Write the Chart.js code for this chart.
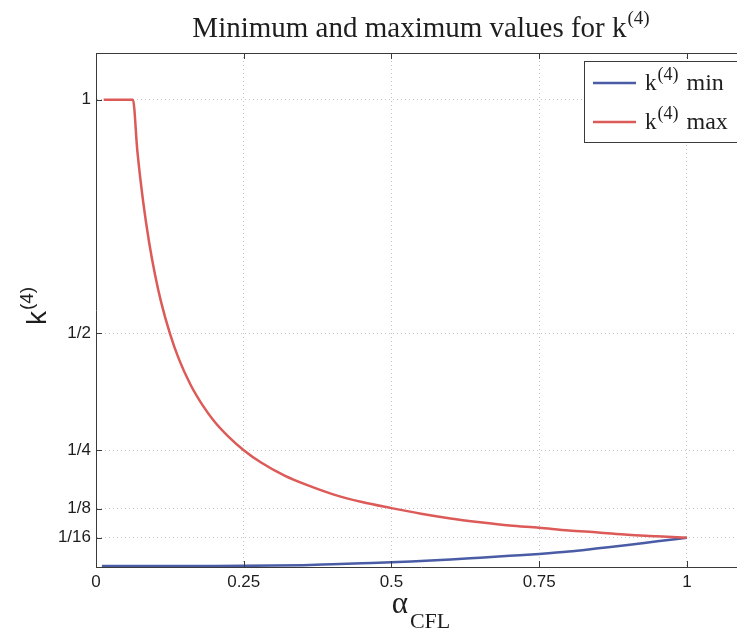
<!DOCTYPE html>
<html>
<head>
<meta charset="utf-8">
<script src="https://cdn.jsdelivr.net/npm/chart.js@4/dist/chart.umd.min.js"></script>
<style>
  html, body { margin: 0; padding: 0; background: #fff; overflow: hidden; }
  #wrap { position: absolute; left: 0; top: 0; width: 760px; height: 635px; }
</style>
</head>
<body>
<div id="wrap"><canvas id="chart" width="760" height="635"></canvas></div>
<script>
// k(4)max: upper bound of the limiter coefficient against the CFL number
const maxAlpha = [0.013, 0.0625, 0.07, 0.08, 0.09, 0.1, 0.11, 0.125, 0.14, 0.16, 0.18, 0.2, 0.225, 0.25,
                  0.28, 0.32, 0.36, 0.4, 0.45, 0.5, 0.55, 0.6, 0.65, 0.7, 0.75, 0.8, 0.85, 0.9, 0.95, 1];
const maxK     = [1, 1, 0.89, 0.78, 0.694, 0.625, 0.568, 0.5, 0.446, 0.39, 0.347, 0.312, 0.278, 0.25,
                  0.223, 0.195, 0.174, 0.156, 0.139, 0.126, 0.114, 0.104, 0.096, 0.089, 0.084, 0.078, 0.074, 0.069, 0.066, 0.0625];

// k(4)min: lower bound
const minAlpha = [0.01, 0.1, 0.2, 0.3, 0.35, 0.4, 0.45, 0.5, 0.55, 0.6, 0.65, 0.7, 0.75, 0.8, 0.85, 0.9, 0.95, 1];
const minK     = [0.002, 0.002, 0.002, 0.003, 0.004, 0.006, 0.008, 0.010, 0.013, 0.016, 0.020, 0.024, 0.028, 0.033, 0.040, 0.047, 0.055, 0.0625];

const xTicks = [0, 0.25, 0.5, 0.75, 1];
const xTickLabels = ['0', '0.25', '0.5', '0.75', '1'];
const yTicks = [0.0625, 0.125, 0.25, 0.5, 1];
const yTickLabels = ['1/16', '1/8', '1/4', '1/2', '1'];

const titleText = 'Minimum and maximum values for k';
const supText = '(4)';
const seriesNames = ['min', 'max'];
const xTitleMain = '\u03B1';
const xTitleSub = 'CFL';
const yTitleMain = 'k';

const BLUE = '#4a5ca6';
const RED = '#dc5a57';
const SERIF = '"Liberation Serif", "Times New Roman", serif';
const SANS = '"Liberation Sans", Arial, sans-serif';

function toPoints(xs, ys) { return xs.map((x, i) => ({ x: x, y: ys[i] })); }

// draws a run of text pieces with their own font and vertical shift
function drawRuns(ctx, runs, x, y, align) {
  let total = 0;
  runs.forEach(r => { ctx.font = r.font; r.w = ctx.measureText(r.text).width; total += r.w + (r.gap || 0); });
  let cx = align === 'center' ? x - total / 2 : x;
  ctx.textAlign = 'left';
  ctx.textBaseline = 'alphabetic';
  runs.forEach(r => {
    cx += (r.gap || 0);
    ctx.font = r.font;
    ctx.fillText(r.text, cx, y + (r.dy || 0));
    cx += r.w;
  });
}

const decorations = {
  id: 'decorations',
  afterDraw(chart) {
    const { ctx, chartArea: a, scales } = chart;
    const xs = scales.x, ys = scales.y;
    ctx.save();
    // frame top and right lines
    ctx.strokeStyle = '#3a3a3a';
    ctx.lineWidth = 1;
    ctx.beginPath();
    ctx.moveTo(a.left, a.top + 0.5);
    ctx.lineTo(a.right, a.top + 0.5);
    ctx.moveTo(a.right - 0.5, a.top);
    ctx.lineTo(a.right - 0.5, a.bottom);
    ctx.stroke();
    // inward tick marks
    ctx.beginPath();
    xTicks.forEach(v => {
      const px = Math.round(xs.getPixelForValue(v)) + 0.5;
      ctx.moveTo(px, a.bottom); ctx.lineTo(px, a.bottom - 6);
      ctx.moveTo(px, a.top); ctx.lineTo(px, a.top + 6);
    });
    yTicks.forEach(v => {
      const py = Math.round(ys.getPixelForValue(v)) + 0.5;
      ctx.moveTo(a.left, py); ctx.lineTo(a.left + 6, py);
    });
    ctx.stroke();

    ctx.fillStyle = '#1e1e1e';
    // title
    drawRuns(ctx, [
      { text: titleText, font: '29px ' + SERIF },
      { text: supText, font: '19px ' + SERIF, dy: -13, gap: 1 }
    ], (a.left + a.right) / 2, 37, 'center');

    // x axis title
    drawRuns(ctx, [
      { text: xTitleMain, font: '31px ' + SERIF },
      { text: xTitleSub, font: '22px ' + SERIF, dy: 15, gap: 2 }
    ], (a.left + a.right) / 2, 613, 'center');

    // y axis title, rotated
    ctx.save();
    ctx.translate(46, (a.top + a.bottom) / 2 - 4);
    ctx.rotate(-Math.PI / 2);
    drawRuns(ctx, [
      { text: yTitleMain, font: '28px ' + SANS },
      { text: supText, font: '19px ' + SANS, dy: -13, gap: 1 }
    ], 0, 0, 'center');
    ctx.restore();

    // legend
    const lx = 584, ly = 61, lw = 160, lh = 81;
    ctx.fillStyle = '#ffffff';
    ctx.fillRect(lx, ly, lw, lh);
    ctx.strokeStyle = '#3a3a3a';
    ctx.lineWidth = 1;
    ctx.strokeRect(lx + 0.5, ly + 0.5, lw, lh);
    const rows = [{ c: BLUE, y: 83 }, { c: RED, y: 122 }];
    rows.forEach((r, i) => {
      ctx.strokeStyle = r.c;
      ctx.lineWidth = 2.5;
      ctx.beginPath();
      ctx.moveTo(593, r.y); ctx.lineTo(636, r.y);
      ctx.stroke();
      ctx.fillStyle = '#1e1e1e';
      drawRuns(ctx, [
        { text: yTitleMain, font: '23px ' + SERIF },
        { text: supText, font: '18px ' + SERIF, dy: -10, gap: 1 },
        { text: seriesNames[i], font: '24px ' + SERIF, gap: 8 }
      ], 645, r.y + 7, 'left');
    });
    ctx.restore();
  }
};

new Chart(document.getElementById('chart'), {
  type: 'line',
  data: {
    datasets: [
      { label: 'k(4) min', data: toPoints(minAlpha, minK), borderColor: BLUE, borderWidth: 2.5,
        pointRadius: 0, cubicInterpolationMode: 'monotone', order: 1 },
      { label: 'k(4) max', data: toPoints(maxAlpha, maxK), borderColor: RED, borderWidth: 2.5,
        pointRadius: 0, cubicInterpolationMode: 'monotone', order: 0 }
    ]
  },
  options: {
    responsive: false,
    animation: false,
    devicePixelRatio: 1,
    layout: { padding: { left: 0, top: 53, right: 14, bottom: 0 } },
    plugins: { legend: { display: false }, title: { display: false }, tooltip: { enabled: false } },
    scales: {
      x: {
        type: 'linear', min: 0, max: 1.1,
        afterBuildTicks(s) { s.ticks = xTicks.map(v => ({ value: v })); },
        afterFit(s) { s.height = 68; },
        ticks: {
          autoSkip: false, maxRotation: 0, padding: 5, color: '#1e1e1e',
          font: { family: SANS, size: 17 },
          callback(v) { const i = xTicks.indexOf(v); return i >= 0 ? xTickLabels[i] : ''; }
        },
        grid: { color: '#c4c4c4', lineWidth: 1, drawTicks: false },
        border: { display: true, color: '#3a3a3a', width: 1, dash: [1, 3] }
      },
      y: {
        type: 'linear', min: 0, max: 1.1,
        afterBuildTicks(s) { s.ticks = yTicks.map(v => ({ value: v })); },
        afterFit(s) { s.width = 96; },
        ticks: {
          autoSkip: false, padding: 5, color: '#1e1e1e',
          font: { family: SANS, size: 17 },
          callback(v) { const i = yTicks.indexOf(v); return i >= 0 ? yTickLabels[i] : ''; }
        },
        grid: { color: '#c4c4c4', lineWidth: 1, drawTicks: false },
        border: { display: true, color: '#3a3a3a', width: 1, dash: [1, 3] }
      }
    }
  },
  plugins: [decorations]
});
</script>
</body>
</html>
